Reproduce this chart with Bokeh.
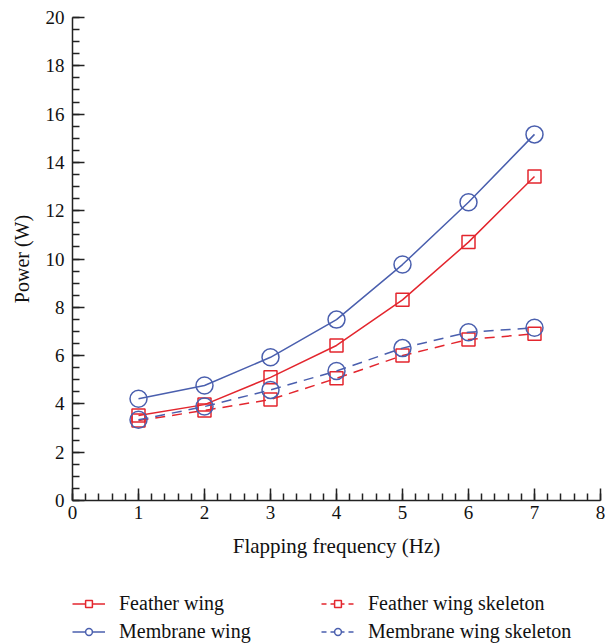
from bokeh.plotting import figure
from bokeh.layouts import column
from bokeh.models import SingleIntervalTicker, Legend, LegendItem
from bokeh.embed import file_html
from bokeh.resources import INLINE

freq = [1, 2, 3, 4, 5, 6, 7]
feather_wing = [3.52, 3.97, 5.10, 6.42, 8.31, 10.70, 13.42]
membrane_wing = [4.21, 4.76, 5.93, 7.49, 9.77, 12.35, 15.16]
feather_skeleton = [3.31, 3.73, 4.18, 5.06, 6.00, 6.67, 6.90]
membrane_skeleton = [3.34, 3.89, 4.58, 5.36, 6.31, 6.97, 7.15]
series_names = ["Feather wing", "Membrane wing", "Feather wing skeleton", "Membrane wing skeleton"]

RED = "#e3262e"
BLUE = "#4a5fae"
FONT = "Liberation Serif"

p = figure(width=605, height=560, x_range=(0, 8), y_range=(0, 20),
           output_backend="svg", toolbar_location=None,
           min_border_left=72, min_border_right=5, min_border_top=17, min_border_bottom=60)
p.outline_line_color = None
p.xgrid.visible = False
p.ygrid.visible = False

p.xaxis.ticker = SingleIntervalTicker(interval=1, num_minor_ticks=5)
p.yaxis.ticker = SingleIntervalTicker(interval=2, num_minor_ticks=4)
for ax in (p.xaxis[0], p.yaxis[0]):
    ax.major_tick_in = 12
    ax.major_tick_out = 0
    ax.minor_tick_in = 7
    ax.minor_tick_out = 0
    ax.axis_line_width = 1.5
    ax.axis_line_color = "#222222"
    ax.major_tick_line_color = "#222222"
    ax.minor_tick_line_color = "#222222"
    ax.major_tick_line_width = 1.5
    ax.minor_tick_line_width = 1.5
    ax.major_label_text_font = FONT
    ax.major_label_text_font_size = "19px"
    ax.major_label_text_color = "#111111"
    ax.axis_label_text_font = FONT
    ax.axis_label_text_font_style = "normal"
    ax.axis_label_text_color = "#111111"
p.xaxis.axis_label = "Flapping frequency (Hz)"
p.yaxis.axis_label = "Power (W)"
p.xaxis.axis_label_text_font_size = "21px"
p.yaxis.axis_label_text_font_size = "20px"
p.xaxis.major_label_standoff = 5
p.yaxis.major_label_standoff = 8
p.xaxis.axis_label_standoff = 12
p.yaxis.axis_label_standoff = 10

specs = [
    (feather_wing, RED, "solid", "square", 13),
    (membrane_wing, BLUE, "solid", "circle", 17),
    (feather_skeleton, RED, "10 7", "square", 13),
    (membrane_skeleton, BLUE, "10 7", "circle", 17),
]

# legend strip below the chart
lg = figure(width=605, height=84, x_range=(0, 1), y_range=(0, 1),
            output_backend="svg", toolbar_location=None,
            x_axis_location=None, y_axis_location=None,
            min_border_left=0, min_border_right=0, min_border_top=0, min_border_bottom=0)
lg.outline_line_color = None
lg.grid.visible = False

nan = float("nan")
items = []
for name, (vals, col, dash, mk, sz) in zip(series_names, specs):
    p.line(freq, vals, line_color=col, line_width=1.5, line_dash=dash)
    p.scatter(freq, vals, marker=mk, size=sz, fill_color=None, line_color=col, line_width=1.5)
    kl = lg.line(x=[nan], y=[nan], line_color=col, line_width=1.5,
                 line_dash=("solid" if dash == "solid" else "5 4"))
    km = lg.scatter(x=[nan], y=[nan], marker=mk, size=7, fill_color="white",
                    line_color=col, line_width=1.5)
    items.append(LegendItem(label=name, renderers=[kl, km]))

legend = Legend(items=items, orientation="vertical", nrows=2,
                location=(0, 1), padding=0, margin=0, spacing=5,
                glyph_width=33, glyph_height=17, label_height=20,
                label_standoff=14, label_width=197,
                label_text_font=FONT, label_text_font_size="20px", label_text_color="#111111",
                border_line_color=None, background_fill_alpha=0)
lg.add_layout(legend, "center")

layout = column(p, lg, spacing=0)
open("out.html", "w").write(file_html(layout, INLINE))
